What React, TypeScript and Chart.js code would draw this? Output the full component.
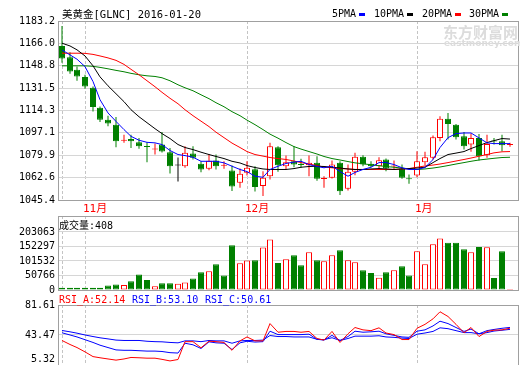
import React, { useEffect, useRef } from "react";
import { Chart, registerables } from "chart.js";

Chart.register(...registerables);

// ---------------- data ----------------
const days = Array.from({ length: 59 }, (_, i) => i + 1);
const monthTickDays = [1, 4, 25, 47];
const monthTickLabels = ["", "11月", "12月", "1月"];

const openPrice = [1164.0, 1155.3, 1145.6, 1140.0, 1131.8, 1116.4, 1107.2, 1103.4, 1091.0, 1092.4,
  1089.8, 1086.8, 1084.2, 1088.1, 1082.2, 1071.9, 1071.4, 1081.2, 1073.3, 1069.4,
  1075.8, 1071.7, 1068.1, 1058.7, 1066.3, 1069.1, 1056.1, 1063.7, 1086.0, 1071.4,
  1075.2, 1072.8, 1072.2, 1074.0, 1061.5, 1062.5, 1074.0, 1054.1, 1067.1, 1078.6,
  1073.3, 1071.4, 1076.6, 1071.2, 1069.6, 1061.7, 1064.3, 1074.5, 1077.9, 1093.2,
  1108.0, 1103.4, 1094.4, 1088.1, 1093.2, 1079.8, 1090.6, 1090.6, 1087.8];
const highPrice = [1179.4, 1159.2, 1148.1, 1141.8, 1132.8, 1117.4, 1110.3, 1109.3, 1095.7, 1095.7,
  1093.2, 1089.8, 1088.8, 1097.8, 1085.5, 1078.1, 1086.8, 1086.8, 1075.2, 1080.9,
  1080.4, 1075.2, 1071.9, 1069.6, 1075.2, 1071.4, 1067.6, 1089.4, 1086.8, 1079.6,
  1086.8, 1077.1, 1079.6, 1079.1, 1063.7, 1075.8, 1075.2, 1072.7, 1081.7, 1079.8,
  1075.2, 1078.3, 1077.3, 1075.8, 1072.7, 1065.0, 1082.9, 1082.5, 1095.0, 1109.8,
  1112.4, 1103.9, 1097.8, 1096.5, 1096.3, 1095.7, 1093.2, 1095.7, 1089.4];
const lowPrice = [1151.0, 1142.5, 1137.2, 1131.0, 1113.6, 1105.5, 1102.1, 1086.0, 1089.4, 1085.5,
  1084.8, 1074.5, 1080.4, 1081.9, 1065.8, 1059.7, 1070.2, 1076.6, 1066.8, 1068.3,
  1068.9, 1069.4, 1052.4, 1054.8, 1064.3, 1052.0, 1048.4, 1061.2, 1067.1, 1068.9,
  1070.6, 1070.2, 1063.7, 1060.3, 1054.8, 1062.0, 1049.2, 1052.8, 1064.5, 1071.4,
  1070.6, 1068.9, 1067.6, 1068.9, 1061.7, 1057.9, 1063.0, 1072.2, 1076.6, 1090.6,
  1091.9, 1091.9, 1084.2, 1082.5, 1075.8, 1077.9, 1088.1, 1082.9, 1086.3];
const closePrice = [1154.3, 1144.3, 1140.5, 1132.8, 1117.0, 1107.2, 1104.2, 1090.6, 1091.6, 1090.6,
  1086.8, 1086.2, 1084.8, 1082.7, 1071.4, 1071.9, 1081.7, 1077.9, 1068.9, 1075.6,
  1071.4, 1072.2, 1055.8, 1065.6, 1070.2, 1055.4, 1062.5, 1086.8, 1072.2, 1074.5,
  1072.7, 1072.3, 1074.0, 1061.7, 1062.0, 1072.7, 1052.2, 1067.1, 1078.6, 1072.7,
  1071.4, 1076.0, 1069.6, 1071.6, 1062.5, 1061.4, 1075.2, 1078.3, 1093.7, 1108.0,
  1103.9, 1093.7, 1086.8, 1093.2, 1079.1, 1088.6, 1090.4, 1087.5, 1088.3];

const ma5 = [1160.9, 1157.1, 1153.8, 1148.1, 1136.6, 1122.6, 1112.4, 1105.9, 1099.6, 1094.4,
  1091.4, 1089.8, 1089.4, 1088.1, 1083.5, 1080.4, 1079.6, 1078.3, 1075.2, 1075.2,
  1075.2, 1074.0, 1071.4, 1068.9, 1067.3, 1063.7, 1062.9, 1068.9, 1071.4, 1073.5,
  1074.6, 1075.2, 1072.7, 1071.2, 1070.2, 1071.4, 1067.3, 1063.7, 1066.6, 1068.9,
  1070.6, 1074.2, 1074.2, 1072.7, 1070.2, 1068.9, 1068.9, 1070.4, 1076.5, 1085.8,
  1093.4, 1096.5, 1097.0, 1097.0, 1093.2, 1089.4, 1088.8, 1088.8, 1088.8];
const ma10 = [1166.1, 1164.0, 1161.0, 1156.3, 1148.7, 1140.2, 1133.3, 1127.2, 1121.1, 1114.9,
  1109.5, 1104.9, 1100.3, 1096.5, 1092.7, 1088.1, 1085.8, 1084.2, 1082.2, 1080.4,
  1078.9, 1077.3, 1075.2, 1073.9, 1071.9, 1070.4, 1069.3, 1068.9, 1068.9, 1068.9,
  1069.6, 1070.6, 1071.2, 1071.4, 1071.2, 1070.6, 1070.0, 1069.3, 1068.9, 1068.9,
  1069.3, 1069.6, 1069.3, 1068.9, 1069.3, 1069.6, 1070.0, 1070.6, 1074.2, 1077.3,
  1080.4, 1081.5, 1082.7, 1085.0, 1087.3, 1089.6, 1091.1, 1092.7, 1092.3];
const ma20 = [1158.4, 1158.4, 1158.4, 1158.3, 1157.5, 1156.3, 1154.8, 1152.9, 1149.8, 1146.0,
  1141.8, 1137.2, 1132.6, 1128.3, 1123.7, 1119.5, 1114.9, 1110.3, 1106.1, 1101.9,
  1097.6, 1093.4, 1089.2, 1085.8, 1082.7, 1080.4, 1079.2, 1078.1, 1077.3, 1076.6,
  1075.4, 1074.2, 1073.1, 1071.9, 1070.8, 1070.2, 1069.6, 1069.3, 1068.9, 1068.9,
  1068.9, 1068.9, 1068.9, 1068.9, 1069.3, 1069.6, 1070.6, 1071.6, 1072.3, 1073.1,
  1074.2, 1075.4, 1076.6, 1077.7, 1079.1, 1080.4, 1081.7, 1082.5, 1082.7];
const ma30 = [1148.7, 1148.7, 1148.7, 1148.7, 1148.3, 1147.5, 1146.4, 1145.2, 1144.1, 1142.9,
  1141.8, 1141.0, 1140.5, 1139.5, 1137.2, 1134.1, 1131.8, 1129.5, 1126.4, 1123.4,
  1120.3, 1117.2, 1113.4, 1110.3, 1106.9, 1103.4, 1099.6, 1096.1, 1093.0, 1089.6,
  1086.5, 1084.6, 1082.7, 1080.8, 1078.9, 1077.3, 1076.2, 1075.0, 1074.0, 1073.3,
  1072.5, 1071.8, 1071.2, 1070.6, 1070.0, 1069.4, 1068.9, 1069.3, 1070.0, 1070.8,
  1071.9, 1073.1, 1074.2, 1075.2, 1076.2, 1076.9, 1077.5, 1078.1, 1078.3];

const volume = [8200, 7800, 8000, 7900, 8100, 7700, 15900, 19400, 17600, 31000,
  54600, 34600, 13400, 24000, 24000, 21900, 26400, 40500, 61700, 65200,
  89900, 51100, 156900, 93400, 102900, 104000, 148700, 177000, 94500, 107500,
  121600, 86400, 132200, 104000, 100500, 121600, 139200, 104000, 96900, 68700,
  59200, 43000, 61700, 68700, 82800, 51100, 135700, 89900, 160400, 180500,
  165000, 165000, 142800, 132200, 150900, 149800, 41600, 135700, 408];
const volumeDir = ("ddddddddud" + "ddudduuddu" + "ddduuduudu" + "dduduuduud" + "dududduuuu" + "dddududdu").split("");

const rsiA = [36.5, 31.4, 27.5, 22, 16, 14.5, 13, 11.5, 13, 14.9,
  14.5, 14, 14, 12.5, 10.5, 12.3, 35, 35, 27.2, 35.6,
  35, 34, 24, 36, 41, 36, 36, 58, 47, 48,
  48, 47, 48, 39, 37, 48, 34, 45, 53, 50,
  49, 52.6, 46, 44, 37.7, 37.7, 52, 57, 64, 73,
  67, 57, 46.3, 53, 41.5, 48, 49.6, 50, 52.14];
const rsiB = [46.3, 43.5, 41, 37.5, 34, 30.5, 27.5, 24.5, 24, 24,
  23.5, 23, 23, 22.5, 21, 20.5, 33, 31, 26.3, 34.8,
  33.5, 33, 25, 33.5, 35.5, 34.5, 35, 48.3, 44, 44,
  44, 44, 44.5, 38, 37, 43, 36.5, 41.5, 48.3, 47,
  47.5, 48.3, 45, 43, 41, 40.5, 48.3, 50, 55, 61,
  58, 53, 48, 51, 45, 49, 50.5, 52, 53.10];
const rsiC = [49.2, 47.5, 45.8, 43.5, 41.5, 39.9, 38.5, 37, 36.5, 36.5,
  36.5, 35.5, 35, 34.8, 34, 33.5, 36, 36, 35, 36.5,
  36, 36, 33, 36, 36.5, 36.5, 37, 42.8, 41.5, 41.5,
  41, 41, 41, 38, 37.5, 40, 36.5, 39, 42, 42,
  42, 42.5, 41, 40.5, 39.5, 39, 44.5, 46, 48, 52.6,
  51.5, 49, 46.5, 46.5, 45, 46.5, 48.5, 49.5, 50.61];

const priceTickLabels = ["1045.4", "1062.6", "1079.9", "1097.1", "1114.3", "1131.5", "1148.8", "1166.0", "1183.2"];
const volumeTickLabels = ["0", "50766", "101532", "152297", "203063"];
const volumeMax = 259000;
const rsiTickLabels = ["5.32", "43.47", "81.61"];

// ---------------- styles ----------------
const FONT = "'DejaVu Sans Mono', 'Noto Sans CJK SC', monospace";
const UP = "#ff0000";
const DOWN = "#008000";
const FLAT = "#000000";
const GRID = "#d6d6d6";
const DASH = "#c4c4c4";
const FRAME = "#a0a0a0";
const X_MIN = 0.5;
const X_MAX = 60.05;

Chart.defaults.font.family = FONT;

const candleColor = (i: number) =>
  closePrice[i] > openPrice[i] ? UP : closePrice[i] < openPrice[i] ? DOWN : FLAT;

const framePlugin = {
  id: "frame",
  afterDraw(chart: any) {
    const { ctx, chartArea: a } = chart;
    ctx.save();
    ctx.strokeStyle = FRAME;
    ctx.lineWidth = 1;
    ctx.strokeRect(a.left + 0.5, a.top + 0.5, a.right - a.left, a.bottom - a.top);
    ctx.restore();
  },
};

function xAxis(height: number, showLabels: boolean) {
  return {
    type: "linear",
    min: X_MIN,
    max: X_MAX,
    bounds: "data",
    offset: false,
    alignToPixels: true,
    afterBuildTicks: (s: any) => {
      s.ticks = monthTickDays.map((v) => ({ value: v }));
    },
    afterFit: (s: any) => {
      s.height = height;
      s.paddingLeft = 0;
      s.paddingRight = 0;
    },
    grid: { display: true, drawOnChartArea: true, drawTicks: false, offset: false, color: DASH, lineWidth: 1 },
    border: { display: false, dash: [3, 2] },
    ticks: {
      display: showLabels,
      autoSkip: false,
      maxRotation: 0,
      minRotation: 0,
      padding: 3,
      align: "start",
      labelOffset: -2,
      color: UP,
      font: { family: FONT, size: 11 },
      callback: (_v: any, i: number) => monthTickLabels[i],
    },
  };
}

function yAxis(labels: string[], min: number, max: number, liftFirst = false) {
  return {
    type: "linear",
    position: "left",
    min,
    max,
    bounds: "data",
    afterBuildTicks: (s: any) => {
      s.ticks = labels.map((l) => ({ value: parseFloat(l) }));
    },
    afterFit: (s: any) => {
      s.width = 58;
      s.paddingTop = 0;
      s.paddingBottom = 0;
    },
    grid: { color: GRID, drawTicks: false, lineWidth: 1 },
    border: { display: false },
    ticks: {
      padding: 3,
      color: "#000",
      autoSkip: false,
      font: { family: FONT, size: 10 },
      callback: (_v: any, i: number) => (liftFirst && i === 0 ? [labels[i], ""] : labels[i]),
    },
  };
}

const baseOptions = (padding: any) => ({
  responsive: false,
  animation: false,
  devicePixelRatio: 1,
  layout: { padding },
  plugins: { legend: { display: false }, tooltip: { enabled: false } },
  events: [],
});

const pts = (arr: number[]) => arr.map((v, i) => ({ x: days[i], y: v }));

function priceConfig(): any {
  const maSeries = [
    { data: ma5, color: "#0000ff" },
    { data: ma10, color: "#000000" },
    { data: ma20, color: "#ff0000" },
    { data: ma30, color: "#008000" },
  ];
  return {
    type: "bar",
    data: {
      datasets: [
        ...maSeries.map((s) => ({
          type: "line",
          data: pts(s.data),
          borderColor: s.color,
          borderWidth: 1,
          pointRadius: 0,
          tension: 0,
          order: 0,
        })),
        {
          type: "bar",
          data: days.map((d, i) => ({ x: d, y: [openPrice[i], closePrice[i]] })),
          backgroundColor: days.map((_, i) => (candleColor(i) === UP ? "#ffffff" : candleColor(i))),
          borderColor: days.map((_, i) => candleColor(i)),
          borderWidth: 1,
          borderSkipped: false,
          barThickness: 6,
          grouped: false,
          minBarLength: 1,
          inflateAmount: 0,
          order: 1,
        },
        {
          type: "bar",
          data: days.map((d, i) => ({ x: d, y: [lowPrice[i], highPrice[i]] })),
          backgroundColor: days.map((_, i) => candleColor(i)),
          borderWidth: 0,
          barThickness: 1,
          grouped: false,
          inflateAmount: 0,
          order: 2,
        },
      ],
    },
    options: {
      ...baseOptions({ left: 0, right: 2, top: 21, bottom: 0 }),
      scales: {
        x: xAxis(16, true),
        y: yAxis(priceTickLabels, parseFloat(priceTickLabels[0]), parseFloat(priceTickLabels[priceTickLabels.length - 1])),
      },
    },
    plugins: [framePlugin],
  };
}

function volumeConfig(): any {
  return {
    type: "bar",
    data: {
      datasets: [
        {
          data: days.map((d, i) => ({ x: d, y: volume[i] })),
          backgroundColor: days.map((_, i) => (volumeDir[i] === "u" ? "#ffffff" : DOWN)),
          borderColor: days.map((_, i) => (volumeDir[i] === "u" ? UP : DOWN)),
          borderWidth: 1,
          borderSkipped: false,
          barThickness: 6,
          grouped: false,
          minBarLength: 1,
          inflateAmount: 0,
        },
      ],
    },
    options: {
      ...baseOptions({ left: 0, right: 2, top: 10, bottom: 10 }),
      scales: {
        x: xAxis(0, false),
        y: yAxis(volumeTickLabels, 0, volumeMax),
      },
    },
    plugins: [framePlugin],
  };
}

function rsiConfig(): any {
  const series = [
    { data: rsiA, color: "#ff0000", order: 0 },
    { data: rsiB, color: "#0000ff", order: 1 },
    { data: rsiC, color: "#0000ff", order: 2 },
  ];
  return {
    type: "line",
    data: {
      datasets: series.map((s) => ({
        data: pts(s.data),
        borderColor: s.color,
        borderWidth: 1,
        pointRadius: 0,
        tension: 0,
        order: s.order,
      })),
    },
    options: {
      ...baseOptions({ left: 0, right: 2, top: 10, bottom: 0 }),
      scales: {
        x: xAxis(0, false),
        y: yAxis(rsiTickLabels, parseFloat(rsiTickLabels[0]), parseFloat(rsiTickLabels[2]), true),
      },
    },
    plugins: [framePlugin],
  };
}

const textBase: React.CSSProperties = {
  position: "absolute",
  fontFamily: FONT,
  fontSize: 10,
  lineHeight: "12px",
  whiteSpace: "pre",
  color: "#000",
};

const legendItems = [
  { label: "5PMA", color: "#0000ff", x: 332 },
  { label: "10PMA", color: "#000000", x: 374 },
  { label: "20PMA", color: "#ff0000", x: 422 },
  { label: "30PMA", color: "#008000", x: 469 },
];

export default function App() {
  const c1 = useRef<HTMLCanvasElement>(null);
  const c2 = useRef<HTMLCanvasElement>(null);
  const c3 = useRef<HTMLCanvasElement>(null);

  useEffect(() => {
    const charts = [
      new Chart(c1.current as HTMLCanvasElement, priceConfig()),
      new Chart(c2.current as HTMLCanvasElement, volumeConfig()),
      new Chart(c3.current as HTMLCanvasElement, rsiConfig()),
    ];
    return () => charts.forEach((c) => c.destroy());
  }, []);

  return (
    <div style={{ position: "fixed", left: 0, top: 0, width: 520, height: 365, background: "#fff", overflow: "hidden" }}>
      <canvas ref={c1} width={520} height={216} style={{ position: "absolute", left: 0, top: 0 }} />
      <canvas ref={c2} width={520} height={94} style={{ position: "absolute", left: 0, top: 206 }} />
      <canvas ref={c3} width={520} height={70} style={{ position: "absolute", left: 0, top: 295 }} />

      <div style={{ ...textBase, left: 443, top: 23, fontFamily: "'Noto Sans CJK SC', sans-serif", fontSize: 15, lineHeight: "17px", fontWeight: 700, color: "#dcdcdc" }}>东方财富网</div>
      <div style={{ ...textBase, left: 444, top: 38, fontFamily: "'DejaVu Sans', sans-serif", fontSize: 9, lineHeight: "10px", fontWeight: 700, color: "#dcdcdc" }}>eastmoney.com</div>

      <div style={{ ...textBase, left: 62, top: 8, fontSize: 10.5 }}>美黄金[GLNC] 2016-01-20</div>
      {legendItems.map((it) => (
        <React.Fragment key={it.label}>
          <div style={{ ...textBase, left: it.x, top: 8 }}>{it.label}</div>
          <div style={{ position: "absolute", left: it.x + it.label.length * 6 + 3, top: 13, width: 6, height: 3, background: it.color }} />
        </React.Fragment>
      ))}

      <div style={{ ...textBase, left: 59, top: 220 }}>成交量:408</div>

      <div style={{ ...textBase, left: 59, top: 294, color: "#ff0000" }}>RSI_A:52.14</div>
      <div style={{ ...textBase, left: 132, top: 294, color: "#0000ff" }}>RSI_B:53.10</div>
      <div style={{ ...textBase, left: 205, top: 294, color: "#0000ff" }}>RSI_C:50.61</div>
    </div>
  );
}
